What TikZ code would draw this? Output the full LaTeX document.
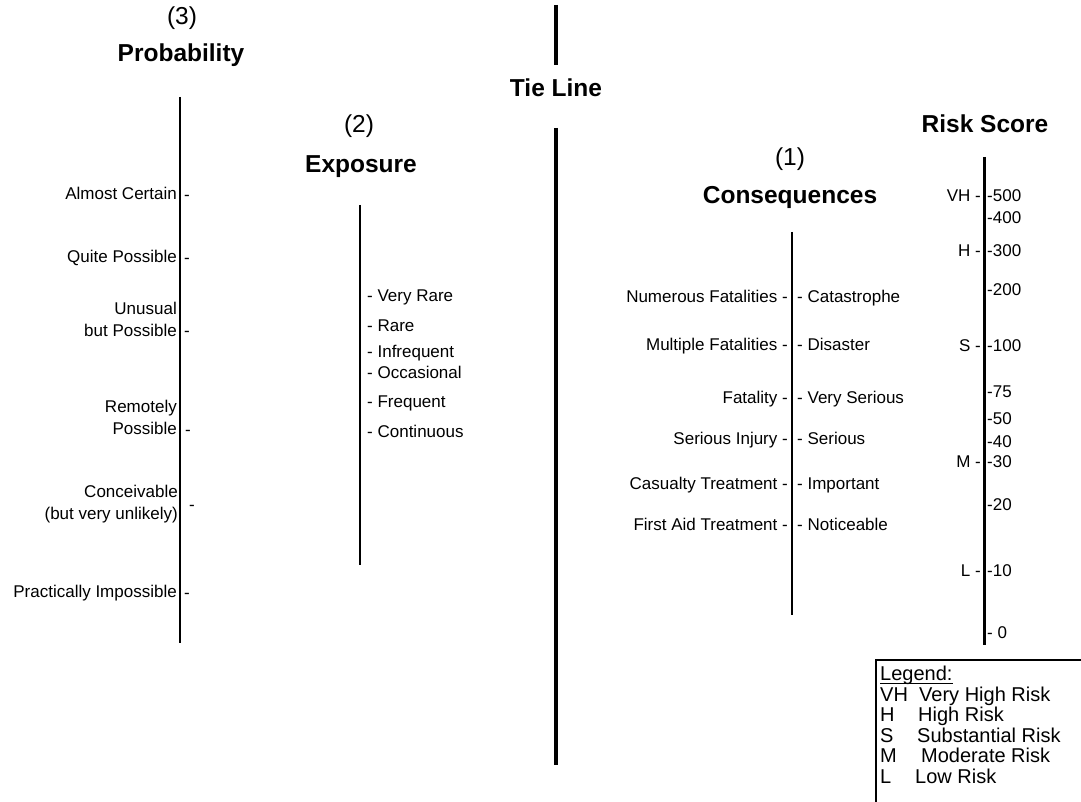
\documentclass[tikz,border=0pt]{standalone}
\usepackage{fontspec}
\setmainfont{Liberation Sans}
\begin{document}
\begin{tikzpicture}[x=1pt,y=-1pt,
  lbl/.style={font=\fontsize{17}{22}\selectfont, inner sep=0pt, yshift=-3pt},
  lblL/.style={lbl, anchor=mid east, align=right},
  lblR/.style={lbl, anchor=mid west, align=left},
  tick/.style={lbl, anchor=mid},
  head/.style={font=\fontsize{24.5}{28}\selectfont\bfseries, inner sep=0pt, anchor=base},
  numhead/.style={font=\fontsize{24.5}{28}\selectfont, inner sep=0pt, anchor=base},
  axisline/.style={line width=2.5pt},
  tieline/.style={line width=4.5pt},
  leg/.style={font=\fontsize{20}{22}\selectfont, inner sep=0pt, anchor=mid west, yshift=-3pt}]
\useasboundingbox (0,0) rectangle (1081,802);
\fill[white] (0,0) rectangle (1081,802);

% ---------- Probability ----------
\node[numhead] (p3) at (182,25) {(3)};
\node[head] (ptitle) at (181,62) {Probability};
\coordinate (ptop) at (180,97);
\coordinate (pbot) at (180,643);
\draw[axisline] (ptop) -- (pbot);
\node[lblL] (pa) at (177,194) {Almost Certain};
\node[tick] (pat) at (187,195) {-};
\node[lblL] (pq) at (177,257) {Quite Possible};
\node[tick] (pqt) at (187,258) {-};
\node[lblL] (pu) at (177,331) {Unusual\\but Possible};
\node[tick] (put) at (187,331) {-};
\node[lblL] (pr) at (177,429) {Remotely\\Possible};
\node[tick] (prt) at (188,430) {-};
\node[lblL] (pc) at (178,514) {Conceivable\\(but very unlikely)};
\node[tick] (pct) at (192,505) {-};
\node[lblL] (pp) at (177,592) {Practically Impossible};
\node[tick] (ppt) at (187,593) {-};

% ---------- Exposure ----------
\node[numhead] (e2) at (359,133) {(2)};
\node[head] (etitle) at (361,173) {Exposure};
\coordinate (etop) at (360,205);
\coordinate (ebot) at (360,565);
\draw[axisline] (etop) -- (ebot);
\node[lblR] (e1) at (367,296) {- Very Rare};
\node[lblR] (e2l) at (367,326) {- Rare};
\node[lblR] (e3) at (367,352) {- Infrequent};
\node[lblR] (e4) at (367,373) {- Occasional};
\node[lblR] (e5) at (367,402) {- Frequent};
\node[lblR] (e6) at (367,432) {- Continuous};

% ---------- Tie line ----------
\node[head] (tie) at (556,97) {Tie Line};
\coordinate (t1) at (556,5);
\coordinate (t2) at (556,65);
\coordinate (t3) at (556,128);
\coordinate (t4) at (556,765);
\draw[tieline] (t1) -- (t2);
\draw[tieline] (t3) -- (t4);

% ---------- Consequences ----------
\node[numhead] (c1h) at (790,166) {(1)};
\node[head] (ctitle) at (790,204) {Consequences};
\coordinate (ctop) at (792,232);
\coordinate (cbot) at (792,615);
\draw[axisline] (ctop) -- (cbot);
\node[lblL] (cl1) at (788,297) {Numerous Fatalities -};
\node[lblL] (cl2) at (788,345) {Multiple Fatalities -};
\node[lblL] (cl3) at (788,398) {Fatality -};
\node[lblL] (cl4) at (788,439) {Serious Injury -};
\node[lblL] (cl5) at (788,484) {Casualty Treatment -};
\node[lblL] (cl6) at (788,525) {First Aid Treatment -};
\node[lblR] (cr1) at (797,297) {- Catastrophe};
\node[lblR] (cr2) at (797,345) {- Disaster};
\node[lblR] (cr3) at (797,398) {- Very Serious};
\node[lblR] (cr4) at (797,439) {- Serious};
\node[lblR] (cr5) at (797,484) {- Important};
\node[lblR] (cr6) at (797,525) {- Noticeable};

% ---------- Risk score ----------
\node[head] (rtitle) at (985,133) {Risk Score};
\coordinate (rtop) at (984,157);
\coordinate (rbot) at (984,645);
\draw[line width=3pt] (rtop) -- (rbot);
\node[lblL] (rvh) at (981,196) {VH -};
\node[lblL] (rh) at (981,251) {H -};
\node[lblL] (rs) at (981,346) {S -};
\node[lblL] (rm) at (981,462) {M -};
\node[lblL] (rl) at (981,571) {L -};
\node[lblR] (r500) at (987,196) {-500};
\node[lblR] (r400) at (987,218) {-400};
\node[lblR] (r300) at (987,251) {-300};
\node[lblR] (r200) at (987,290) {-200};
\node[lblR] (r100) at (987,346) {-100};
\node[lblR] (r75) at (987,392) {-75};
\node[lblR] (r50) at (987,419) {-50};
\node[lblR] (r40) at (987,442) {-40};
\node[lblR] (r30) at (987,462) {-30};
\node[lblR] (r20) at (987,505) {-20};
\node[lblR] (r10) at (987,571) {-10};
\node[lblR] (r0) at (987,633) {- 0};

% ---------- Legend ----------
\draw[line width=1.2pt] (1085,660) -- (876,660) -- (876,805);
\node[leg] (lgt) at (880,675) {Legend:};
\draw[line width=1pt] ([yshift=-3pt]lgt.base west) -- ([yshift=-3pt]lgt.base east);
\node[leg] (lvh) at (880,695.5) {VH};
\node[leg] (lvhd) at (919,695.5) {Very High Risk};
\node[leg] (lh) at (880,716) {H};
\node[leg] (lhd) at (918,716) {High Risk};
\node[leg] (ls) at (880,736.5) {S};
\node[leg] (lsd) at (917,736.5) {Substantial Risk};
\node[leg] (lm) at (880,757) {M};
\node[leg] (lmd) at (921,757) {Moderate Risk};
\node[leg] (ll) at (880,777.5) {L};
\node[leg] (lld) at (915,777.5) {Low Risk};
\end{tikzpicture}
\end{document}
